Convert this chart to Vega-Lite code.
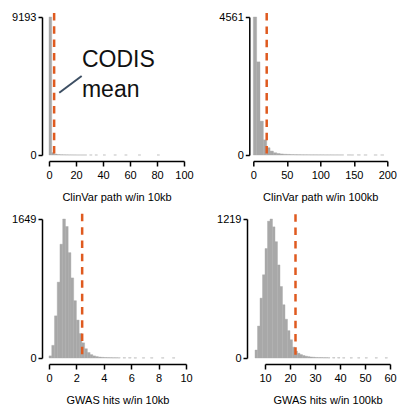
{
  "$schema": "https://vega.github.io/schema/vega-lite/v6.json",
  "padding": {"left": 11, "top": 11, "right": 0, "bottom": 0},
  "background": "white",
  "datasets": {
    "clin10": [
      {"x0": 0, "x1": 2, "n": 9193}, {"x0": 2, "x1": 4, "n": 160}, {"x0": 4, "x1": 6, "n": 60},
      {"x0": 6, "x1": 8, "n": 30}, {"x0": 8, "x1": 10, "n": 18}, {"x0": 10, "x1": 12, "n": 12},
      {"x0": 12, "x1": 14, "n": 8}, {"x0": 14, "x1": 16, "n": 6}, {"x0": 16, "x1": 18, "n": 4},
      {"x0": 18, "x1": 20, "n": 3}, {"x0": 20, "x1": 22, "n": 2}, {"x0": 22, "x1": 24, "n": 2},
      {"x0": 24, "x1": 26, "n": 1}, {"x0": 26, "x1": 28, "n": 1}, {"x0": 30, "x1": 32, "n": 1},
      {"x0": 34, "x1": 36, "n": 1}, {"x0": 40, "x1": 42, "n": 1}, {"x0": 48, "x1": 50, "n": 1},
      {"x0": 56, "x1": 58, "n": 1}, {"x0": 66, "x1": 68, "n": 1}, {"x0": 80, "x1": 82, "n": 1}
    ],
    "clin100": [
      {"x0": 0, "x1": 5, "n": 4561}, {"x0": 5, "x1": 10, "n": 3078}, {"x0": 10, "x1": 15, "n": 1120},
      {"x0": 15, "x1": 20, "n": 500}, {"x0": 20, "x1": 25, "n": 240}, {"x0": 25, "x1": 30, "n": 130},
      {"x0": 30, "x1": 35, "n": 75}, {"x0": 35, "x1": 40, "n": 50}, {"x0": 40, "x1": 45, "n": 35},
      {"x0": 45, "x1": 50, "n": 25}, {"x0": 50, "x1": 55, "n": 20}, {"x0": 55, "x1": 60, "n": 15},
      {"x0": 60, "x1": 65, "n": 12}, {"x0": 65, "x1": 70, "n": 10}, {"x0": 70, "x1": 75, "n": 8},
      {"x0": 75, "x1": 80, "n": 7}, {"x0": 80, "x1": 85, "n": 6}, {"x0": 85, "x1": 90, "n": 5},
      {"x0": 90, "x1": 95, "n": 5}, {"x0": 95, "x1": 100, "n": 4}, {"x0": 100, "x1": 105, "n": 4},
      {"x0": 105, "x1": 110, "n": 3}, {"x0": 110, "x1": 115, "n": 3}, {"x0": 115, "x1": 120, "n": 3},
      {"x0": 120, "x1": 125, "n": 2}, {"x0": 125, "x1": 130, "n": 2}, {"x0": 130, "x1": 135, "n": 2},
      {"x0": 140, "x1": 145, "n": 2}, {"x0": 145, "x1": 150, "n": 1}, {"x0": 155, "x1": 160, "n": 2},
      {"x0": 165, "x1": 170, "n": 1}, {"x0": 180, "x1": 185, "n": 1}, {"x0": 190, "x1": 195, "n": 1}
    ],
    "gwas10": [
      {"x0": 0.0, "x1": 0.2, "n": 25}, {"x0": 0.2, "x1": 0.4, "n": 150}, {"x0": 0.4, "x1": 0.6, "n": 500},
      {"x0": 0.6, "x1": 0.8, "n": 900}, {"x0": 0.8, "x1": 1.0, "n": 1350}, {"x0": 1.0, "x1": 1.2, "n": 1649},
      {"x0": 1.2, "x1": 1.4, "n": 1560}, {"x0": 1.4, "x1": 1.6, "n": 1250}, {"x0": 1.6, "x1": 1.8, "n": 950},
      {"x0": 1.8, "x1": 2.0, "n": 680}, {"x0": 2.0, "x1": 2.2, "n": 450}, {"x0": 2.2, "x1": 2.4, "n": 290},
      {"x0": 2.4, "x1": 2.6, "n": 180}, {"x0": 2.6, "x1": 2.8, "n": 110}, {"x0": 2.8, "x1": 3.0, "n": 65},
      {"x0": 3.0, "x1": 3.2, "n": 40}, {"x0": 3.2, "x1": 3.4, "n": 25}, {"x0": 3.4, "x1": 3.6, "n": 17},
      {"x0": 3.6, "x1": 3.8, "n": 11}, {"x0": 3.8, "x1": 4.0, "n": 8}, {"x0": 4.0, "x1": 4.2, "n": 6},
      {"x0": 4.2, "x1": 4.4, "n": 5}, {"x0": 4.4, "x1": 4.6, "n": 4}, {"x0": 4.6, "x1": 4.8, "n": 3},
      {"x0": 4.8, "x1": 5.0, "n": 3}, {"x0": 5.0, "x1": 5.2, "n": 2}, {"x0": 5.4, "x1": 5.6, "n": 2},
      {"x0": 5.8, "x1": 6.0, "n": 2}, {"x0": 6.2, "x1": 6.4, "n": 1}, {"x0": 6.8, "x1": 7.0, "n": 1},
      {"x0": 7.4, "x1": 7.6, "n": 1}, {"x0": 8.2, "x1": 8.4, "n": 1}, {"x0": 9.0, "x1": 9.2, "n": 1}
    ],
    "gwas100": [
      {"x0": 6, "x1": 7, "n": 70}, {"x0": 7, "x1": 8, "n": 280}, {"x0": 8, "x1": 9, "n": 525},
      {"x0": 9, "x1": 10, "n": 730}, {"x0": 10, "x1": 11, "n": 960}, {"x0": 11, "x1": 12, "n": 1200},
      {"x0": 12, "x1": 13, "n": 1219}, {"x0": 13, "x1": 14, "n": 1150}, {"x0": 14, "x1": 15, "n": 1020},
      {"x0": 15, "x1": 16, "n": 816}, {"x0": 16, "x1": 17, "n": 627}, {"x0": 17, "x1": 18, "n": 467},
      {"x0": 18, "x1": 19, "n": 340}, {"x0": 19, "x1": 20, "n": 240}, {"x0": 20, "x1": 21, "n": 160},
      {"x0": 21, "x1": 22, "n": 95}, {"x0": 22, "x1": 23, "n": 60}, {"x0": 23, "x1": 24, "n": 42},
      {"x0": 24, "x1": 25, "n": 30}, {"x0": 25, "x1": 26, "n": 22}, {"x0": 26, "x1": 27, "n": 16},
      {"x0": 27, "x1": 28, "n": 12}, {"x0": 28, "x1": 29, "n": 9}, {"x0": 29, "x1": 30, "n": 7},
      {"x0": 30, "x1": 31, "n": 5}, {"x0": 31, "x1": 32, "n": 4}, {"x0": 32, "x1": 33, "n": 4},
      {"x0": 33, "x1": 34, "n": 3}, {"x0": 34, "x1": 35, "n": 3}, {"x0": 35, "x1": 36, "n": 2},
      {"x0": 37, "x1": 38, "n": 2}, {"x0": 39, "x1": 40, "n": 2}, {"x0": 41, "x1": 42, "n": 1},
      {"x0": 44, "x1": 45, "n": 1}, {"x0": 47, "x1": 48, "n": 1}, {"x0": 50, "x1": 51, "n": 1},
      {"x0": 54, "x1": 55, "n": 1}, {"x0": 58, "x1": 59, "n": 1}
    ]
  },
  "vconcat": [
    {
      "hconcat": [
        {
          "width": 135, "height": 138,
          "layer": [
            {
              "data": {"name": "clin10"},
              "mark": {"type": "bar", "color": "#a8a8a8", "stroke": "#a8a8a8", "strokeWidth": 0.4},
              "encoding": {
                "x": {"field": "x0", "type": "quantitative", "scale": {"domain": [0, 100], "nice": false, "zero": false},
                      "axis": {"values": [0, 20, 40, 60, 80, 100], "tickCount": 12, "title": "ClinVar path w/in 10kb"}},
                "x2": {"field": "x1"},
                "y": {"field": "n", "type": "quantitative", "scale": {"domain": [0, 9193], "nice": false},
                      "axis": {"values": [0, 9193], "offset": 7, "title": null, "format": "d"}},
                "y2": {"datum": 0}
              }
            },
            {
              "data": {"values": [{}]},
              "mark": {"type": "rule", "color": "#df5a1f", "strokeWidth": 2.5, "strokeDash": [7.5, 5.8]},
              "encoding": {"x": {"datum": 3.8, "type": "quantitative"}, "y": {"datum": 9460, "type": "quantitative"}, "y2": {"datum": 0}}
            },
            {
              "data": {"values": [{}]},
              "mark": {"type": "rule", "color": "#3d4f63", "strokeWidth": 2},
              "encoding": {"x": {"datum": 7.6, "type": "quantitative"}, "y": {"datum": 4150, "type": "quantitative"}, "x2": {"datum": 24.2}, "y2": {"datum": 5263}}
            },
            {
              "data": {"values": [{}]},
              "mark": {"type": "text", "align": "left", "baseline": "alphabetic", "fontSize": 23, "color": "#111111", "font": "Liberation Sans"},
              "encoding": {"x": {"datum": 24.4, "type": "quantitative"}, "y": {"datum": 5882, "type": "quantitative"}, "text": {"value": "CODIS"}}
            },
            {
              "data": {"values": [{}]},
              "mark": {"type": "text", "align": "left", "baseline": "alphabetic", "fontSize": 23, "color": "#111111", "font": "Liberation Sans"},
              "encoding": {"x": {"datum": 24.4, "type": "quantitative"}, "y": {"datum": 3884, "type": "quantitative"}, "text": {"value": "mean"}}
            }
          ]
        },
        {
          "width": 134, "height": 138,
          "layer": [
            {
              "data": {"name": "clin100"},
              "mark": {"type": "bar", "color": "#a8a8a8", "stroke": "#a8a8a8", "strokeWidth": 0.4},
              "encoding": {
                "x": {"field": "x0", "type": "quantitative", "scale": {"domain": [0, 200], "nice": false, "zero": false},
                      "axis": {"values": [0, 50, 100, 150, 200], "tickCount": 12, "title": "ClinVar path w/in 100kb"}},
                "x2": {"field": "x1"},
                "y": {"field": "n", "type": "quantitative", "scale": {"domain": [0, 4561], "nice": false},
                      "axis": {"values": [0, 4561], "offset": 4, "title": null, "format": "d"}},
                "y2": {"datum": 0}
              }
            },
            {
              "data": {"values": [{}]},
              "mark": {"type": "rule", "color": "#df5a1f", "strokeWidth": 2.5, "strokeDash": [7.5, 5.8]},
              "encoding": {"x": {"datum": 20, "type": "quantitative"}, "y": {"datum": 4690, "type": "quantitative"}, "y2": {"datum": 0}}
            }
          ]
        }
      ],
      "spacing": 24.3
    },
    {
      "hconcat": [
        {
          "width": 137, "height": 139,
          "layer": [
            {
              "data": {"name": "gwas10"},
              "mark": {"type": "bar", "color": "#a8a8a8", "stroke": "#a8a8a8", "strokeWidth": 0.4},
              "encoding": {
                "x": {"field": "x0", "type": "quantitative", "scale": {"domain": [0, 10], "nice": false, "zero": false},
                      "axis": {"values": [0, 2, 4, 6, 8, 10], "tickCount": 12, "title": "GWAS hits w/in 10kb"}},
                "x2": {"field": "x1"},
                "y": {"field": "n", "type": "quantitative", "scale": {"domain": [0, 1649], "nice": false},
                      "axis": {"values": [0, 1649], "offset": 7, "title": null, "format": "d"}},
                "y2": {"datum": 0}
              }
            },
            {
              "data": {"values": [{}]},
              "mark": {"type": "rule", "color": "#df5a1f", "strokeWidth": 2.5, "strokeDash": [7.5, 5.8]},
              "encoding": {"x": {"datum": 2.42, "type": "quantitative"}, "y": {"datum": 1710, "type": "quantitative"}, "y2": {"datum": 0}}
            }
          ]
        },
        {
          "width": 125, "height": 139,
          "layer": [
            {
              "data": {"name": "gwas100"},
              "mark": {"type": "bar", "color": "#a8a8a8", "stroke": "#a8a8a8", "strokeWidth": 0.4},
              "encoding": {
                "x": {"field": "x0", "type": "quantitative", "scale": {"domain": [10, 60], "nice": false, "zero": false},
                      "axis": {"values": [10, 20, 30, 40, 50, 60], "tickCount": 12, "title": "GWAS hits w/in 100kb"}},
                "x2": {"field": "x1"},
                "y": {"field": "n", "type": "quantitative", "scale": {"domain": [0, 1219], "nice": false},
                      "axis": {"values": [0, 1219], "offset": 18, "title": null, "format": "d"}},
                "y2": {"datum": 0}
              }
            },
            {
              "data": {"values": [{}]},
              "mark": {"type": "rule", "color": "#df5a1f", "strokeWidth": 2.5, "strokeDash": [7.5, 5.8]},
              "encoding": {"x": {"datum": 22.2, "type": "quantitative"}, "y": {"datum": 1260, "type": "quantitative"}, "y2": {"datum": 0}}
            }
          ]
        }
      ],
      "spacing": 23
    }
  ],
  "spacing": 10,
  "config": {
    "font": "Liberation Sans",
    "view": {"stroke": null},
    "concat": {"spacing": 25},
    "axis": {
      "grid": false,
      "domainColor": "#000000",
      "tickColor": "#000000",
      "labelColor": "#000000",
      "titleColor": "#000000",
      "labelFont": "Liberation Sans",
      "titleFont": "Liberation Sans",
      "labelFontSize": 11,
      "titleFontSize": 11,
      "titleFontWeight": "normal",
      "domainWidth": 1.5,
      "tickWidth": 1.5
    },
    "axisX": {"offset": 6, "tickSize": 5, "labelPadding": 3, "titlePadding": 11, "labelFlush": false, "labelOverlap": false},
    "axisY": {"tickSize": 4, "labelPadding": 2, "labelOverlap": false}
  }
}
